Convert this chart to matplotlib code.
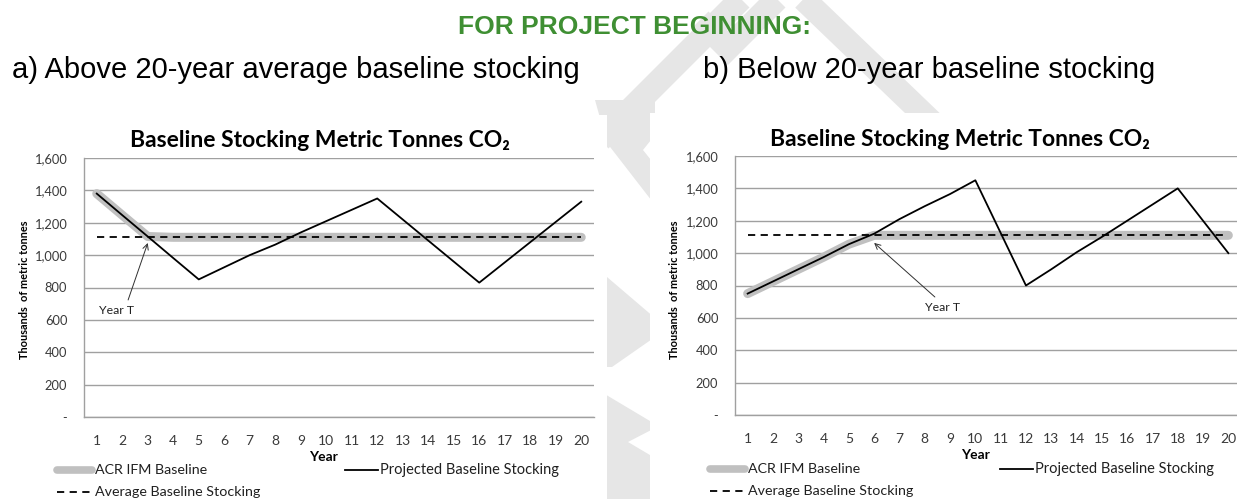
import matplotlib
matplotlib.use("Agg")
import matplotlib.pyplot as plt
from matplotlib.lines import Line2D
from matplotlib.patches import Rectangle, Polygon

# ---------------- data ----------------
years = list(range(1, 21))
year_labels = [str(y) for y in years]

a_projected = [1380, 1247, 1115, 982, 850, 925, 1000, 1065, 1140, 1210,
               1280, 1350, 1220, 1090, 960, 830, 955, 1080, 1205, 1330]
a_acr = [1380, 1247, 1115] + [1110] * 17
a_average = [1110] * 20

b_projected = [750, 825, 900, 975, 1055, 1120, 1210, 1290, 1365, 1450,
               1125, 800, 900, 1005, 1100, 1200, 1300, 1400, 1200, 1000]
b_acr = [750, 825, 900, 975, 1055, 1110] + [1110] * 14
b_average = [1110] * 20

y_ticks = [0, 200, 400, 600, 800, 1000, 1200, 1400, 1600]
y_tick_labels = ["-", "200", "400", "600", "800", "1,000", "1,200", "1,400", "1,600"]

main_title = "FOR PROJECT BEGINNING:"
sub_a = "a) Above 20-year average baseline stocking"
sub_b = "b) Below 20-year baseline stocking"
chart_title = "Baseline Stocking Metric Tonnes CO\u2082"
y_label = "Thousands  of metric tonnes"
x_label = "Year"
legend_labels = ["ACR IFM Baseline", "Projected Baseline Stocking", "Average Baseline Stocking"]
annot_text = "Year T"

# ---------------- figure ----------------
W, H = 1237, 499
fig = plt.figure(figsize=(W / 100, H / 100), dpi=100)
FONT = ["Lato", "Noto Sans", "DejaVu Sans"]
ARIAL = ["Liberation Sans", "DejaVu Sans"]


def fx(px):
    return px / W


def fy(py):
    return 1 - py / H


def fpts(pts):
    return [(fx(x), fy(y)) for x, y in pts]


# watermark (light grey chevrons) behind everything
wm_color = "#e6e6e6"
wm_lw = 24 / 100 * 72
for pts in [
    [(600, 140), (745, -5)],
    [(700, 20), (728, 48), (800, -24)],
    [(790, -14), (940, 130)],
]:
    xs = [fx(p[0]) for p in pts]
    ys = [fy(p[1]) for p in pts]
    fig.add_artist(Line2D(xs, ys, color=wm_color, lw=wm_lw, solid_joinstyle="miter",
                          solid_capstyle="butt", zorder=0))
for poly in [
    [(595, 100), (655, 100), (655, 135), (643, 150), (655, 165), (655, 205), (607, 143)],
    [(607, 277), (655, 318), (655, 337), (612, 367), (607, 367)],
    [(603, 393), (655, 424), (655, 428), (628, 442), (655, 458), (655, 505), (603, 505)],
]:
    fig.add_artist(Polygon(fpts(poly), closed=True, transform=fig.transFigure,
                           facecolor=wm_color, edgecolor="none", zorder=0))

# white chart image areas covering watermark
fig.add_artist(Rectangle((0, 0), fx(607), fy(115), transform=fig.transFigure,
                         facecolor="white", edgecolor="none", zorder=0.5))
fig.add_artist(Rectangle((fx(650), 0), 1 - fx(650), fy(113), transform=fig.transFigure,
                         facecolor="white", edgecolor="none", zorder=0.5))

fig.text(fx(634), fy(27), main_title, family=ARIAL, weight="bold", fontsize=19,
         color="#3f8f33", ha="center", va="center", zorder=2)
fig.text(fx(12), fy(70), sub_a, family=ARIAL, fontsize=21, color="black",
         ha="left", va="center", zorder=2)
fig.text(fx(703), fy(70), sub_b, family=ARIAL, fontsize=21, color="black",
         ha="left", va="center", zorder=2)

grid_color = "#a0a0a0"
text_color = "#3a3a3a"


def draw_panel(rect, projected, acr, average, title_xy, ylabel_xy, xlabel_xy,
               annot_tip, annot_tail, annot_xy, legend_origin):
    ax = fig.add_axes(rect, zorder=3)
    ax.set_facecolor("none")
    ax.set_xlim(0.5, 20.5)
    ax.set_ylim(0, 1600)
    ax.set_yticks(y_ticks)
    ax.set_yticklabels(y_tick_labels, family=FONT, fontsize=9.3, color=text_color)
    ax.set_xticks(years)
    ax.set_xticklabels(year_labels, family=FONT, fontsize=10, color=text_color)
    ax.tick_params(axis="both", length=0)
    ax.tick_params(axis="x", pad=13)
    ax.tick_params(axis="y", pad=12)
    ax.grid(axis="y", color=grid_color, lw=1.0)
    ax.set_axisbelow(True)
    for s in ["top", "right"]:
        ax.spines[s].set_visible(False)
    for s in ["left", "bottom"]:
        ax.spines[s].set_color(grid_color)
        ax.spines[s].set_linewidth(1.0)

    ax.plot(years, acr, color="#c0c0c0", lw=6.5, solid_capstyle="round",
            solid_joinstyle="round", zorder=2)
    ax.plot(years, average, color="black", lw=1.3, dashes=(4, 3), zorder=3)
    ax.plot(years, projected, color="black", lw=1.3, zorder=4)

    ax.annotate("", xy=annot_tip, xytext=annot_tail,
                arrowprops=dict(arrowstyle="->", color="#303030", lw=0.7,
                                shrinkA=0, shrinkB=0, mutation_scale=10),
                zorder=5)
    ax.text(annot_xy[0], annot_xy[1], annot_text, family=FONT, fontsize=8.8,
            color="#202020", ha="center", va="center", zorder=5)

    fig.text(fx(title_xy[0]), fy(title_xy[1]), chart_title, family=FONT,
             weight="bold", fontsize=16.5, ha="center", va="center", color="black")
    fig.text(fx(ylabel_xy[0]), fy(ylabel_xy[1]), y_label, family=FONT, weight="bold",
             fontsize=7.9, rotation=90, ha="center", va="center", color="black")
    fig.text(fx(xlabel_xy[0]), fy(xlabel_xy[1]), x_label, family=FONT, weight="bold",
             fontsize=10, ha="center", va="center", color="black")

    lx, ly, bx = legend_origin
    fig.add_artist(Line2D([fx(lx), fx(lx + 35)], [fy(ly), fy(ly)], color="#c0c0c0",
                          lw=5.5, solid_capstyle="round", zorder=3))
    fig.text(fx(lx + 38), fy(ly), legend_labels[0], family=FONT, fontsize=10.3,
             color="#202020", ha="left", va="center")
    fig.add_artist(Line2D([fx(bx), fx(bx + 33)], [fy(ly), fy(ly)], color="black",
                          lw=1.3, zorder=3))
    fig.text(fx(bx + 35), fy(ly), legend_labels[1], family=FONT, fontsize=10.5,
             color="#202020", ha="left", va="center")
    fig.add_artist(Line2D([fx(lx), fx(lx + 35)], [fy(ly + 22), fy(ly + 22)],
                          color="black", lw=1.3, dashes=(4, 3), zorder=3))
    fig.text(fx(lx + 38), fy(ly + 22), legend_labels[2], family=FONT, fontsize=10.3,
             color="#202020", ha="left", va="center")
    return ax


draw_panel([fx(84), fy(417), fx(594) - fx(84), fy(158) - fy(417)],
           a_projected, a_acr, a_average,
           title_xy=(320, 140), ylabel_xy=(25, 290), xlabel_xy=(323, 457),
           annot_tip=(3, 1075), annot_tail=(2.23, 723), annot_xy=(1.79, 655),
           legend_origin=(57, 470, 345))

draw_panel([fx(735), fy(415), fx(1241) - fx(735), fy(156) - fy(415)],
           b_projected, b_acr, b_average,
           title_xy=(960, 139), ylabel_xy=(675, 290), xlabel_xy=(975, 455),
           annot_tip=(6, 1063), annot_tail=(8.4, 729), annot_xy=(8.72, 667),
           legend_origin=(710, 469, 1000))

fig.savefig("out.png", dpi=100)
